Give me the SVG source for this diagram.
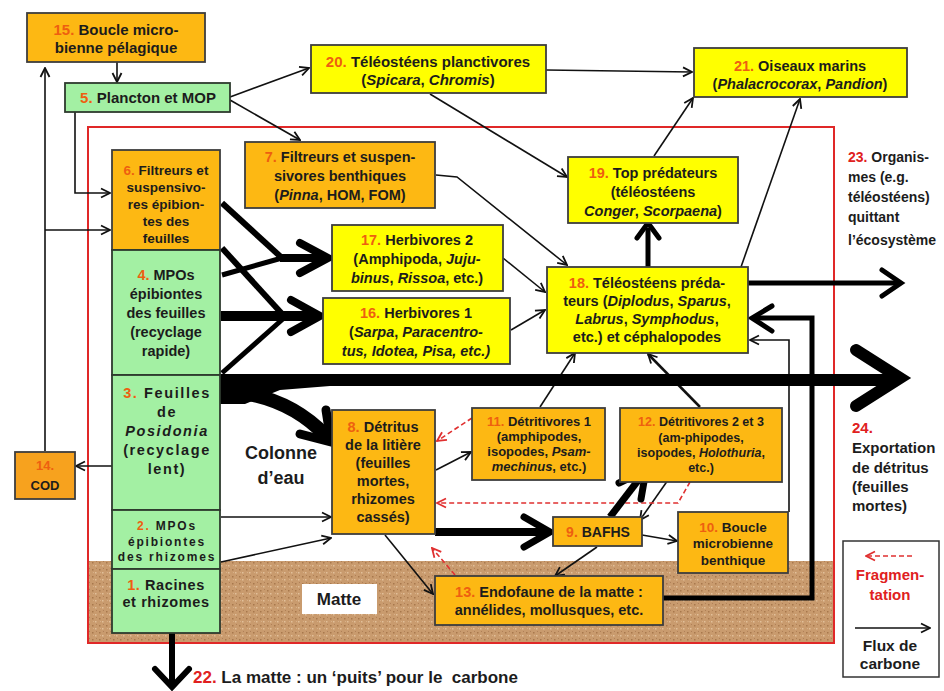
<svg xmlns="http://www.w3.org/2000/svg" width="944" height="691" viewBox="0 0 944 691">
<style>
text{font-family:"Liberation Sans",Arial,sans-serif;font-weight:bold;fill:#1c1c1c}
.c{text-anchor:middle}
.n{fill:#EE5F10}
.r{fill:#E02020}
.i{font-style:italic}
.bo{fill:#FDB813;stroke:#3d3d3d;stroke-width:1.8}
.bc{fill:#F7A21E;stroke:#3d3d3d;stroke-width:1.8}
.by{fill:#FFFF00;stroke:#3d3d3d;stroke-width:1.8}
.bg{fill:#A3F0A3;stroke:#2e3a2e;stroke-width:1.8}
.l{fill:none;stroke:#111;stroke-width:1.6;marker-end:url(#ah)}
.d{fill:none;stroke:#E03030;stroke-width:1.6;stroke-dasharray:5 3;marker-end:url(#ar)}
.k{fill:none;stroke:#000;stroke-linecap:butt}
.v{fill:none;stroke:#000;stroke-linejoin:miter;stroke-linecap:round}
</style>
<defs>
<marker id="ah" viewBox="0 0 12 12" refX="11" refY="6" markerWidth="12" markerHeight="12" markerUnits="userSpaceOnUse" orient="auto"><path d="M2,1.5 L11,6 L2,10.5" fill="none" stroke="#111" stroke-width="1.8"/></marker>
<marker id="ar" viewBox="0 0 12 12" refX="11" refY="6" markerWidth="12" markerHeight="12" markerUnits="userSpaceOnUse" orient="auto"><path d="M2,1.5 L11,6 L2,10.5" fill="none" stroke="#E03030" stroke-width="1.8"/></marker>
<pattern id="sand" width="7" height="7" patternUnits="userSpaceOnUse"><rect width="7" height="7" fill="#C99B6E"/><rect x="1" y="2" width="1.5" height="1.5" fill="#A8784C"/><rect x="4" y="5" width="1.5" height="1.5" fill="#E2C09A"/><rect x="5" y="1" width="1" height="1" fill="#B08058"/><rect x="2" y="5" width="1" height="1" fill="#D8B088"/></pattern>
</defs>
<rect width="944" height="691" fill="#fff"/>
<g id="frame">
<rect x="89" y="561" width="744" height="81" fill="url(#sand)"/>
<rect x="88" y="127" width="746" height="516" fill="none" stroke="#E02828" stroke-width="2"/>
</g>
<g id="connectors">
<path class="l" d="M117,62 V82"/>
<path class="l" d="M45,451 V68"/>
<path class="l" d="M45,230 H110"/>
<path class="l" d="M75,112 V193 H110"/>
<path class="l" d="M230,97 L309,68"/>
<path class="l" d="M230,100 L300,140"/>
<path class="l" d="M546,70 L692,72"/>
<path class="l" d="M430,94 L567,177"/>
<path class="l" d="M654,156 L693,98"/>
<path class="l" d="M741,267 L800,99"/>
<path class="l" d="M436,175 L457,177 L567,265"/>
<path class="l" d="M503,258 L545,292"/>
<path class="l" d="M511,330 L545,310"/>
<path class="l" d="M540,407 L575,353"/>
<path class="l" d="M700,407 L648,354" style="stroke-width:2.5"/>
<path class="l" d="M789,512 V340 H750"/>
<path class="l" d="M112,466 H76"/>
<path class="l" d="M436,470 L471,452"/>
<path class="l" d="M675,470 L640,520"/>
<path class="l" d="M642,535 L677,541"/>
<path class="l" d="M597,547 L555,576"/>
<path class="l" d="M385,535 L433,594"/>
<path class="l" d="M221,517 H331"/>
<path class="l" d="M221,562 L331,538"/>
<path class="d" d="M472,418 L437,441"/>
<path class="d" d="M690,482 L678,503 H437"/>
<path class="d" d="M455,575 L432,548"/>
<!-- thick flows -->
<path class="k" d="M222,203 L282,258" stroke-width="6"/>
<path class="k" d="M222,275 L282,258" stroke-width="5"/>
<path class="k" d="M280,258 H326" stroke-width="8"/>
<path class="v" d="M300,243 L328,258 L300,273" stroke-width="8"/>
<path class="k" d="M222,248 L284,316" stroke-width="6"/>
<path class="k" d="M221,316 H318" stroke-width="10"/>
<path class="k" d="M222,373 L284,318" stroke-width="5"/>
<path class="v" d="M291,300 L320,316 L291,332" stroke-width="8"/>
<path fill="#000" d="M220,374 H330 V386 L280,390 L245,404 H220 Z"/>
<path class="k" d="M225,380 H895" stroke-width="12"/>
<path class="v" d="M856,350 L900,378 L856,406" stroke-width="12"/>
<path class="k" d="M235,392 Q290,398 326,436" stroke-width="14"/>
<path class="v" d="M300,434 L331,442 L326,410" stroke-width="9"/>
<path class="k" d="M648,267 V228" stroke-width="5"/>
<path class="v" d="M637,238 L648,223 L659,238" stroke-width="5"/>
<path class="k" d="M748,283 H898" stroke-width="5"/>
<path class="v" d="M882,270 L901,283 L882,296" stroke-width="5"/>
<path class="k" d="M663,598 H812 V318 H756" stroke-width="5" style="stroke-linejoin:miter"/>
<path class="v" d="M772,306 L752,318 L772,331" stroke-width="5"/>
<path class="k" d="M435,532 H546" stroke-width="8"/>
<path class="v" d="M524,517 L550,532 L524,547" stroke-width="7"/>
<path class="k" d="M610,517 L643,474" stroke-width="7"/>
<path class="v" d="M619,483 L646,470 L641,499" stroke-width="7"/>
<path class="k" d="M172,633 V684" stroke-width="6"/>
<path class="v" d="M155,669 L172,687 L189,669" stroke-width="6"/>
</g>
<g id="n15"><rect class="bo" x="27" y="13" width="178" height="49"/><text class="c" x="116" y="35" font-size="15"><tspan class="n">15.</tspan> Boucle micro-</text><text class="c" x="116" y="53" font-size="15">bienne pélagique</text></g>
<g id="n5"><rect class="bg" x="65" y="83" width="165" height="29"/><text class="c" x="148" y="103" font-size="15"><tspan class="n">5.</tspan> Plancton et MOP</text></g>
<g id="n20"><rect class="by" x="311" y="45" width="235" height="48"/><text class="c" x="428" y="67" font-size="15"><tspan class="n">20.</tspan> Téléostéens planctivores</text><text class="c" x="428" y="85" font-size="15">(<tspan class="i">Spicara</tspan>, <tspan class="i">Chromis</tspan>)</text></g>
<g id="n21"><rect class="by" x="694" y="48" width="213" height="49"/><text class="c" x="800" y="71" font-size="14.5"><tspan class="n">21.</tspan> Oiseaux marins</text><text class="c" x="800" y="89" font-size="14.5">(<tspan class="i">Phalacrocorax</tspan>, <tspan class="i">Pandion</tspan>)</text></g>
<g id="n6"><rect class="bo" x="112" y="150" width="108" height="100"/><text class="c" x="166" y="175" font-size="13.5"><tspan class="n">6.</tspan> Filtreurs et</text><text class="c" x="166" y="192" font-size="13.5">suspensivo-</text><text class="c" x="166" y="209" font-size="13.5">res épibion-</text><text class="c" x="166" y="226" font-size="13.5">tes des</text><text class="c" x="166" y="243" font-size="13.5">feuilles</text></g>
<g id="n4"><rect class="bg" x="112" y="250" width="108" height="125"/><text class="c" x="166" y="280" font-size="14.5"><tspan class="n">4.</tspan> MPOs</text><text class="c" x="166" y="299" font-size="14.5">épibiontes</text><text class="c" x="166" y="318" font-size="14.5">des feuilles</text><text class="c" x="166" y="337" font-size="14.5">(recyclage</text><text class="c" x="166" y="356" font-size="14.5">rapide)</text></g>
<g id="n3"><rect class="bg" x="112" y="375" width="108" height="135"/><g font-size="14.5" letter-spacing="1.6"><text class="c" x="167" y="398"><tspan class="n">3.</tspan> Feuilles</text><text class="c" x="167" y="417">de</text><text class="c i" x="167" y="436">Posidonia</text><text class="c" x="167" y="455">(recyclage</text><text class="c" x="167" y="474">lent)</text></g></g>
<g id="n2"><rect class="bg" x="112" y="510" width="108" height="59"/><g font-size="12" letter-spacing="1.8"><text class="c" x="167" y="530"><tspan class="n">2.</tspan> MPOs</text><text class="c" x="167" y="546">épibiontes</text><text class="c" x="167" y="561">des rhizomes</text></g></g>
<g id="n1"><rect class="bg" x="112" y="569" width="108" height="64"/><g font-size="14.5" letter-spacing="0.6"><text class="c" x="166" y="590"><tspan class="n">1.</tspan> Racines</text><text class="c" x="166" y="607">et rhizomes</text></g></g>
<g id="n7"><rect class="bo" x="245" y="142" width="190" height="66"/><text class="c" x="340" y="162" font-size="14.5"><tspan class="n">7.</tspan> Filtreurs et suspen-</text><text class="c" x="340" y="181" font-size="14.5">sivores benthiques</text><text class="c" x="340" y="200" font-size="14.5">(<tspan class="i">Pinna</tspan>, HOM, FOM)</text></g>
<g id="n17"><rect class="by" x="332" y="225" width="171" height="66"/><text class="c" x="417" y="245" font-size="14.5"><tspan class="n">17.</tspan> Herbivores 2</text><text class="c" x="417" y="264" font-size="14.5">(Amphipoda, <tspan class="i">Juju-</tspan></text><text class="c" x="417" y="283" font-size="14.5"><tspan class="i">binus</tspan>, <tspan class="i">Rissoa</tspan>, etc.)</text></g>
<g id="n16"><rect class="by" x="323" y="298" width="187" height="66"/><text class="c" x="416" y="318" font-size="14.5"><tspan class="n">16.</tspan> Herbivores 1</text><text class="c" x="416" y="337" font-size="14.5">(<tspan class="i">Sarpa</tspan>, <tspan class="i">Paracentro-</tspan></text><text class="c i" x="416" y="356" font-size="14.5">tus, Idotea, Pisa, etc.)</text></g>
<g id="n19"><rect class="by" x="568" y="157" width="170" height="66"/><text class="c" x="653" y="178" font-size="14.5"><tspan class="n">19.</tspan> Top prédateurs</text><text class="c" x="653" y="197" font-size="14.5">(téléostéens</text><text class="c" x="653" y="216" font-size="14.5"><tspan class="i">Conger</tspan>, <tspan class="i">Scorpaena</tspan>)</text></g>
<g id="n18"><rect class="by" x="547" y="267" width="201" height="86"/><text class="c" x="647" y="288" font-size="14.5"><tspan class="n">18.</tspan> Téléostéens préda-</text><text class="c" x="647" y="306" font-size="14.5">teurs (<tspan class="i">Diplodus</tspan>, <tspan class="i">Sparus</tspan>,</text><text class="c" x="647" y="324" font-size="14.5"><tspan class="i">Labrus</tspan>, <tspan class="i">Symphodus</tspan>,</text><text class="c" x="647" y="342" font-size="14.5">etc.) et céphalopodes</text></g>
<g id="n14"><rect class="bc" x="15" y="452" width="60" height="47"/><text class="c n" x="45" y="470" font-size="13">14.</text><text class="c" x="45" y="490" font-size="13">COD</text></g>
<g id="n8"><rect class="bo" x="332" y="410" width="103" height="124"/><text class="c" x="383" y="432" font-size="14.5"><tspan class="n">8.</tspan> Détritus</text><text class="c" x="383" y="450" font-size="14.5">de la litière</text><text class="c" x="383" y="468" font-size="14.5">(feuilles</text><text class="c" x="383" y="486" font-size="14.5">mortes,</text><text class="c" x="383" y="504" font-size="14.5">rhizomes</text><text class="c" x="383" y="522" font-size="14.5">cassés)</text></g>
<g id="n11"><rect class="bo" x="472" y="408" width="133" height="72"/><text class="c" x="539" y="426" font-size="13"><tspan class="n">11.</tspan> Détritivores 1</text><text class="c" x="539" y="441" font-size="13">(amphipodes,</text><text class="c" x="539" y="456" font-size="13">isopodes, <tspan class="i">Psam-</tspan></text><text class="c i" x="539" y="471" font-size="13">mechinus<tspan font-style="normal">, etc.)</tspan></text></g>
<g id="n12"><rect class="bo" x="620" y="408" width="162" height="74"/><text class="c" x="701" y="426" font-size="12.5"><tspan class="n">12.</tspan> Détritivores 2 et 3</text><text class="c" x="701" y="442" font-size="12.5">(am-phipodes,</text><text class="c" x="701" y="457" font-size="12.5">isopodes, <tspan class="i">Holothuria</tspan>,</text><text class="c" x="701" y="472" font-size="12.5">etc.)</text></g>
<g id="n9"><rect class="bo" x="553" y="517" width="89" height="29"/><text class="c" x="598" y="537" font-size="14"><tspan class="n">9.</tspan> BAFHS</text></g>
<g id="n10"><rect class="bo" x="678" y="512" width="110" height="61"/><text class="c" x="733" y="532" font-size="13.5"><tspan class="n">10.</tspan> Boucle</text><text class="c" x="733" y="548" font-size="13.5">microbienne</text><text class="c" x="733" y="565" font-size="13.5">benthique</text></g>
<g id="n13"><rect class="bo" x="435" y="576" width="228" height="49"/><text class="c" x="549" y="597" font-size="14.5"><tspan class="n">13.</tspan> Endofaune de la matte :</text><text class="c" x="549" y="615" font-size="14.5">annélides, mollusques, etc.</text></g>
<g id="labels">
<text class="c" x="281" y="459" font-size="18">Colonne</text><text class="c" x="281" y="484" font-size="18">d’eau</text>
<rect x="302" y="584" width="75" height="30" fill="#fff"/><text class="c" x="339" y="605" font-size="17">Matte</text>
<g font-size="14"><text x="848" y="162"><tspan class="r">23.</tspan> Organis-</text><text x="848" y="182">mes (e.g.</text><text x="848" y="202">téléostéens)</text><text x="848" y="222">quittant</text><text x="848" y="245">l’écosystème</text></g>
<g font-size="15"><text class="r" x="852" y="433">24.</text><text x="852" y="453">Exportation</text><text x="852" y="473">de détritus</text><text x="852" y="492">(feuilles</text><text x="852" y="511">mortes)</text></g>
<text x="193" y="683" font-size="17" xml:space="preserve"><tspan class="r">22.</tspan> La matte : un ‘puits’ pour le  carbone</text>
</g>
<g id="legend">
<rect x="843" y="541" width="96" height="136" fill="#fff" stroke="#333" stroke-width="1.5"/>
<path class="d" d="M912,556 H866"/>
<text class="c r" x="890" y="580" font-size="15">Fragmen-</text><text class="c r" x="890" y="600" font-size="15">tation</text>
<path class="l" d="M855,628 H930"/>
<text class="c" x="890" y="651" font-size="15.5">Flux de</text><text class="c" x="890" y="669" font-size="15.5">carbone</text>
</g>
</svg>
